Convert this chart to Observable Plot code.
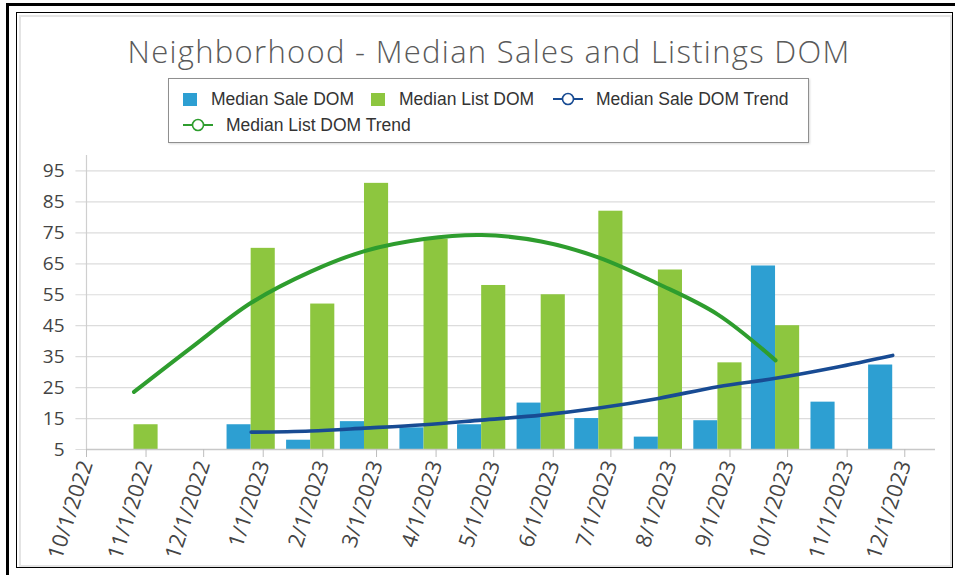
<!DOCTYPE html>
<html><head><meta charset="utf-8">
<script src="https://cdn.jsdelivr.net/npm/d3@7"></script>
<script src="https://cdn.jsdelivr.net/npm/@observablehq/plot@0.6"></script>
<style>
html,body{margin:0;padding:0;background:#fff;width:955px;height:575px;overflow:hidden;position:relative;}
#outer{position:absolute;left:6px;top:3px;width:1000px;height:600px;border-left:3px solid #000;border-top:3px solid #000;}
#inner{position:absolute;left:16px;top:12px;width:935px;height:554px;border:1.5px solid #000;}
#inner2{position:absolute;left:19px;top:15px;width:929px;height:548px;border:2px solid #e4e4e4;}
#title{position:absolute;left:0;width:978px;top:30px;text-align:center;font-family:"Open Sans",sans-serif;font-weight:300;font-size:31px;letter-spacing:1.3px;color:#5a5a5a;white-space:nowrap;}
#legend{position:absolute;left:168px;top:78px;width:639px;height:63px;border:1px solid #8f8f8f;box-shadow:1px 1px 2px rgba(0,0,0,0.15);font-family:"Liberation Sans",Arial,sans-serif;font-size:17.5px;color:#333;background:#fff;}
.item{position:absolute;display:flex;align-items:center;white-space:nowrap;height:20px;}
.sq{width:14px;height:13px;margin-right:14px;}
.ln{margin-right:13px;}
#chart{position:absolute;left:20px;top:145px;}
</style></head>
<body>
<div id="outer"></div>
<div id="inner"></div>
<div id="inner2"></div>
<div id="title"></div>
<div id="legend"></div>
<div id="chart"></div>
<script>
// ---- data ----
const titleText = "Neighborhood - Median Sales and Listings DOM";
const seriesNames = ["Median Sale DOM", "Median List DOM", "Median Sale DOM Trend", "Median List DOM Trend"];
const seriesColors = ["#2d9fd2", "#8dc63f", "#184b93", "#2e9d2e"];

const saleDates = ["2023-01-01","2023-02-01","2023-03-01","2023-04-01","2023-05-01","2023-06-01","2023-07-01","2023-08-01","2023-09-01","2023-10-01","2023-11-01","2023-12-01"];
const saleDOM   = [13, 8, 14, 12, 13, 20, 15, 9, 14.3, 64.3, 20.3, 32.3];

const listDates = ["2022-11-01","2023-01-01","2023-02-01","2023-03-01","2023-04-01","2023-05-01","2023-06-01","2023-07-01","2023-08-01","2023-09-01","2023-10-01"];
const listDOM   = [13, 70, 52, 91, 73, 58, 55, 82, 63, 33, 45];

const listTrendDates = ["2022-11-01","2022-12-01","2023-01-01","2023-02-01","2023-03-01","2023-04-01","2023-05-01","2023-06-01","2023-07-01","2023-08-01","2023-09-01","2023-10-01"];
const listTrend      = [23.6, 38, 52.4, 62.5, 69.1, 73, 74.3, 72.2, 67, 58.5, 48.6, 33.8];

const saleTrendDates = ["2023-01-01","2023-02-01","2023-03-01","2023-04-01","2023-05-01","2023-06-01","2023-07-01","2023-08-01","2023-09-01","2023-10-01","2023-11-01","2023-12-01"];
const saleTrend      = [10.6, 11, 11.9, 13, 14.5, 16.1, 18.4, 21.5, 25.3, 28, 31.5, 35.4];

const xTickDates = ["2022-10-01","2022-11-01","2022-12-01","2023-01-01","2023-02-01","2023-03-01","2023-04-01","2023-05-01","2023-06-01","2023-07-01","2023-08-01","2023-09-01","2023-10-01","2023-11-01","2023-12-01"];
const yTicks = [5, 15, 25, 35, 45, 55, 65, 75, 85, 95];
const xDomain = ["2022-10-01", "2023-12-17"];
const yDomain = [5, 100];

// ---- build ----
document.getElementById("title").textContent = titleText;

const legend = document.getElementById("legend");
function lineSym(color){
  return `<svg class="ln" width="30" height="14"><line x1="0" y1="7" x2="30" y2="7" stroke="${color}" stroke-width="2"/><circle cx="15" cy="7" r="5.5" fill="#fff" stroke="${color}" stroke-width="1.6"/></svg>`;
}
const legendItems = [
  {left:14, top:10, html:`<div class="sq" style="background:${seriesColors[0]}"></div>${seriesNames[0]}`},
  {left:202, top:10, html:`<div class="sq" style="background:${seriesColors[1]}"></div>${seriesNames[1]}`},
  {left:384, top:10, html:`${lineSym(seriesColors[2])}${seriesNames[2]}`},
  {left:14, top:36, html:`${lineSym(seriesColors[3])}${seriesNames[3]}`}
];
for (const it of legendItems){
  const d = document.createElement("div");
  d.className = "item"; d.style.left = it.left+"px"; d.style.top = it.top+"px";
  d.innerHTML = it.html; legend.appendChild(d);
}

const P = d3.utcParse("%Y-%m-%d");
const barDays = 12.55; // bar width in days
const off = (d, days) => new Date(d.getTime() + days*864e5);

const sale = saleDates.map((d,i)=>({date:P(d), value:saleDOM[i]}));
const list = listDates.map((d,i)=>({date:P(d), value:listDOM[i]}));
const lt = listTrendDates.map((d,i)=>({date:P(d), value:listTrend[i]}));
const st = saleTrendDates.map((d,i)=>({date:P(d), value:saleTrend[i]}));
const xt = xTickDates.map(P);
const fmt = d => `${d.getUTCMonth()+1}/${d.getUTCDate()}/${d.getUTCFullYear()}`;

const chart = Plot.plot({
  width: 930, height: 422,
  marginLeft: 66, marginRight: 15, marginTop: 10, marginBottom: 118,
  x: {type: "utc", domain: xDomain.map(P)},
  y: {domain: yDomain},
  style: {fontFamily: "'Open Sans', sans-serif", color: "#444", background: "transparent", overflow: "visible"},
  marks: [
    Plot.ruleY(yTicks, {x1: d => off(xt[0], -5.5), x2: P(xDomain[1]), stroke: "#dcdcdc", strokeWidth: 1.2}),
    Plot.ruleX([xt[0]], {y1: yDomain[0], y2: yDomain[1], stroke: "#cfcfcf", strokeWidth: 1.2}),
    Plot.rectY(sale, {x1: d => off(d.date, -1.5*barDays), x2: d => off(d.date, -0.5*barDays), y: "value", fill: seriesColors[0], clip: true}),
    Plot.rectY(list, {x1: d => off(d.date, -0.5*barDays), x2: d => off(d.date, 0.5*barDays), y: "value", fill: seriesColors[1], clip: true}),
    Plot.ruleY([yDomain[0]], {x1: xt[0], x2: P(xDomain[1]), stroke: "#c8c8c8", strokeWidth: 1.5}),
    Plot.line(lt, {x: d => off(d.date, -0.5*barDays), y: "value", stroke: seriesColors[3], strokeWidth: 4, curve: "catmull-rom"}),
    Plot.line(st, {x: d => off(d.date, -0.5*barDays), y: "value", stroke: seriesColors[2], strokeWidth: 3.6, curve: "monotone-x"}),
    Plot.axisY(yTicks, {label: null, tickSize: 0, tickPadding: 22, fontSize: 19, fill: "#444"}),
    Plot.axisX(xt, {label: null, tickSize: 8, stroke: "#bdbdbd", tickRotate: -72, tickPadding: 4, fontSize: 21.5, fill: "#444", tickFormat: fmt})
  ]
});
document.getElementById("chart").appendChild(chart);
</script>
</body></html>
